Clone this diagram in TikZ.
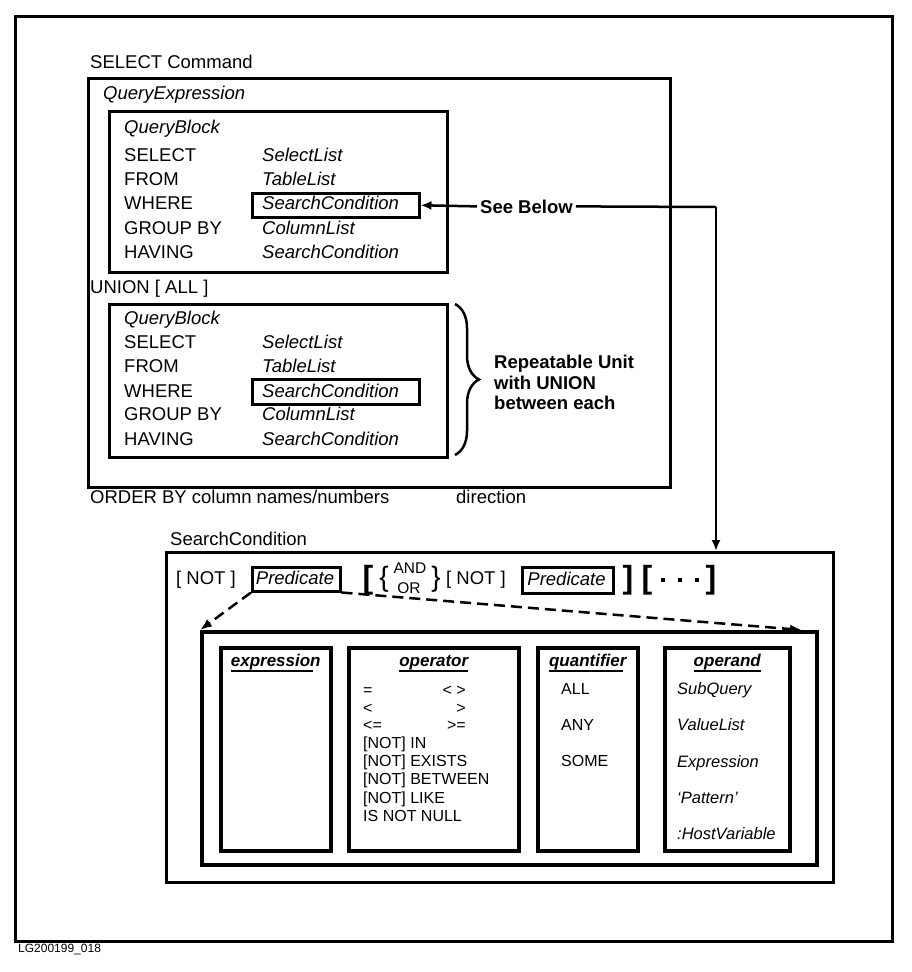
\documentclass[tikz,border=0pt]{standalone}
\usepackage{fontspec}
\setmainfont{Liberation Sans}
\usetikzlibrary{arrows.meta,decorations.pathreplacing}
\begin{document}
\begin{tikzpicture}[x=1pt,y=-1pt,
  txt/.style={inner sep=0pt, anchor=base west, font=\fontsize{18.5}{22}\selectfont},
  itxt/.style={txt, font=\fontsize{18.5}{22}\selectfont\itshape},
  btxt/.style={txt, font=\fontsize{18.5}{22}\selectfont\bfseries},
  stxt/.style={inner sep=0pt, anchor=base west, font=\fontsize{16}{19}\selectfont},
  sitxt/.style={stxt, font=\fontsize{16.5}{19}\selectfont\itshape},
  hdr/.style={inner sep=0pt, anchor=base, font=\fontsize{17}{20}\selectfont\bfseries\itshape},
  box/.style={draw, line width=2.5pt, inner sep=0pt, anchor=north west},
  tbox/.style={draw, line width=3.5pt, inner sep=0pt, anchor=north west},
  big/.style={inner sep=0pt, font=\fontsize{32}{32}\selectfont\bfseries},
  dot/.style={fill, inner sep=0pt, minimum size=4.5pt},
  arr/.style={line width=2.5pt, -{Latex[length=11pt,width=9pt]}},
  darr/.style={line width=2.5pt, dash pattern=on 11pt off 6pt, -{Latex[length=12pt,width=9pt]}},
  uline/.style={line width=2.5pt}
]
\useasboundingbox (0,0) rectangle (912,972);
\node[box, minimum width=877pt, minimum height=925pt] (outer) at (14,15) {};

% SELECT command
\node[txt] (selcmd) at (90,68) {SELECT Command};
\node[box, minimum width=582pt, minimum height=409pt] (qe) at (87,77) {};
\node[itxt] (qelabel) at (103,99) {QueryExpression};

% first query block
\node[box, minimum width=338pt, minimum height=161pt] (qb1) at (108,110) {};
\node[itxt] (qb1t) at (124,133) {QueryBlock};
\node[txt] (qb1a) at (124,161) {SELECT};
\node[txt] (qb1b) at (124,185) {FROM};
\node[txt] (qb1c) at (124,209) {WHERE};
\node[txt] (qb1d) at (124,234) {GROUP BY};
\node[txt] (qb1e) at (124,258) {HAVING};
\node[itxt] (qb1f) at (262,161) {SelectList};
\node[itxt] (qb1g) at (262,185) {TableList};
\node[box, minimum width=167pt, minimum height=24pt] (sc1) at (251,192) {};
\node[itxt] (qb1h) at (262,209) {SearchCondition};
\node[itxt] (qb1i) at (262,234) {ColumnList};
\node[itxt] (qb1j) at (262,258) {SearchCondition};

\node[txt] (union) at (90,293) {UNION [ ALL ]};

% second query block
\node[box, minimum width=338pt, minimum height=153pt] (qb2) at (108,303) {};
\node[itxt] (qb2t) at (124,324) {QueryBlock};
\node[txt] (qb2a) at (124,348) {SELECT};
\node[txt] (qb2b) at (124,372) {FROM};
\node[txt] (qb2c) at (124,397) {WHERE};
\node[txt] (qb2d) at (124,420) {GROUP BY};
\node[txt] (qb2e) at (124,445) {HAVING};
\node[itxt] (qb2f) at (262,348) {SelectList};
\node[itxt] (qb2g) at (262,372) {TableList};
\node[box, minimum width=167pt, minimum height=25pt] (sc2) at (251,378) {};
\node[itxt] (qb2h) at (262,397) {SearchCondition};
\node[itxt] (qb2i) at (262,420) {ColumnList};
\node[itxt] (qb2j) at (262,445) {SearchCondition};

% brace
\coordinate (bt) at (455,304);
\coordinate (bb) at (455,455);
\draw[line width=2.5pt, decorate, decoration={brace, amplitude=24pt}] (bt) -- (bb);
\node[btxt] (rep1) at (494,368) {Repeatable Unit};
\node[btxt] (rep2) at (494,389) {with UNION};
\node[btxt] (rep3) at (494,409) {between each};

\node[txt] (orderby) at (90,503) {ORDER BY column names/numbers};
\node[txt] (direction) at (456,503) {direction};

% See Below
\node[btxt, inner xsep=3pt] (see) at (477,213) {See Below};

% SearchCondition box
\node[txt] (sclabel) at (170,545) {SearchCondition};
\node[box, minimum width=667pt, minimum height=330pt] (scbox) at (165,551) {};
\coordinate (turn) at (716,207);
\draw[arr] (see.west) -- (sc1.east);
\draw[line width=2.5pt] (see.east) -- (turn);
\draw[arr] (turn) -- (turn |- scbox.north);

\node[txt] (not1) at (176,584) {[ NOT ]};
\node[box, minimum width=88pt, minimum height=24pt] (p1) at (251,566) {};
\node[itxt, anchor=base] (p1t) at (295,584) {Predicate};
\node[big] (lb1) at (368,580) {[};
\node[inner sep=0pt, font=\fontsize{28}{28}\selectfont] (lc) at (384,579) {\{};
\node[inner sep=0pt, font=\fontsize{15.5}{15}\selectfont] (and) at (410,568) {AND};
\node[inner sep=0pt, font=\fontsize{15.5}{15}\selectfont] (or) at (409,588) {OR};
\node[inner sep=0pt, font=\fontsize{28}{28}\selectfont] (rc) at (436,579) {\}};
\node[txt] (not2) at (446,584) {[ NOT ]};
\node[box, minimum width=91pt, minimum height=26pt] (p2) at (521,566) {};
\node[itxt, anchor=base] (p2t) at (566.5,585) {Predicate};
\node[big] (rb1) at (628,580) {]};
\node[big] (lb2) at (647,580) {[};
\node[dot] (d1) at (663,580) {};
\node[dot] (d2) at (680,580) {};
\node[dot] (d3) at (697,580) {};
\node[big] (rb2) at (711,580) {]};

% predicate detail
\node[tbox, minimum width=615pt, minimum height=233pt] (inner) at (200,630) {};
\coordinate (tipr) at (802,630);
\draw[darr] (p1.south west) -- (inner.north west);
\draw[darr] (p1.south east) -- (tipr);

\node[tbox, minimum width=110pt, minimum height=203pt] (expr) at (219,646) {};
\node[tbox, minimum width=170pt, minimum height=203pt] (op) at (347,646) {};
\node[tbox, minimum width=100pt, minimum height=203pt] (quant) at (536,646) {};
\node[tbox, minimum width=125pt, minimum height=203pt] (opnd) at (663,646) {};

\node[hdr] (h1) at (expr.north |- 0,666) {expression};
\node[hdr] (h2) at (op.north |- 0,666) {operator};
\node[hdr] (h3) at (quant.north |- 0,666) {quantifier};
\node[hdr] (h4) at (opnd.north |- 0,666) {operand};
\draw[uline] ([yshift=-5pt]h1.base west) -- ([yshift=-5pt,xshift=-8pt]h1.base east);
\draw[uline] ([yshift=-5pt]h2.base west) -- ([yshift=-5pt]h2.base east);
\draw[uline] ([yshift=-5pt]h3.base west) -- ([yshift=-5pt,xshift=-4pt]h3.base east);
\draw[uline] ([yshift=-5pt]h4.base west) -- ([yshift=-5pt]h4.base east);

\node[stxt] (o1) at (363,695) {=};
\node[stxt, anchor=base east] (o1r) at (466,695) {< >};
\node[stxt] (o2) at (363,713) {<};
\node[stxt, anchor=base east] (o2r) at (466,713) {>};
\node[stxt] (o3) at (363,730) {<=};
\node[stxt, anchor=base east] (o3r) at (466,730) {>=};
\node[stxt] (o4) at (363,748) {[NOT] IN};
\node[stxt] (o5) at (363,766) {[NOT] EXISTS};
\node[stxt] (o6) at (363,784) {[NOT] BETWEEN};
\node[stxt] (o7) at (363,803) {[NOT] LIKE};
\node[stxt] (o8) at (363,821) {IS NOT NULL};

\node[stxt] (q1) at (561,694) {ALL};
\node[stxt] (q2) at (561,730) {ANY};
\node[stxt] (q3) at (561,766) {SOME};

\node[sitxt] (r1) at (677,694) {SubQuery};
\node[sitxt] (r2) at (677,730) {ValueList};
\node[sitxt] (r3) at (677,767) {Expression};
\node[sitxt] (r4) at (677,803) {‘Pattern’};
\node[sitxt] (r5) at (677,839) {:HostVariable};

\node[inner sep=0pt, anchor=base west, font=\fontsize{12}{14}\selectfont] (lg) at (18,952) {LG200199\_018};
\end{tikzpicture}
\end{document}
